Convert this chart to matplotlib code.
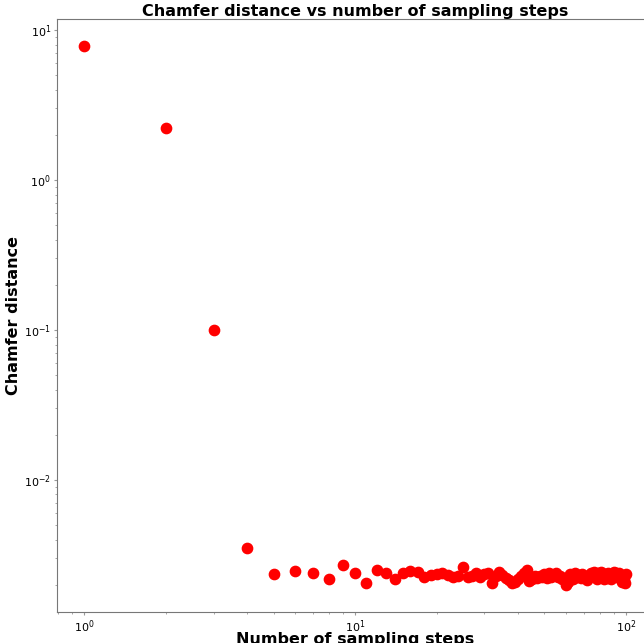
import numpy as np
import matplotlib
matplotlib.use("Agg")
import matplotlib.pyplot as plt

# sampling steps 1..100 and the measured chamfer distance
steps = list(range(1, 101))
head = [7.8, 2.22, 0.1, 0.00352]
# values for steps 5..100, in units of 1e-3
tail_e3 = [2.36, 2.48, 2.39, 2.19, 2.71, 2.41, 2.05, 2.51, 2.38, 2.19,
           2.39, 2.48, 2.45, 2.27, 2.34, 2.37, 2.41, 2.32, 2.25, 2.28,
           2.62, 2.25, 2.30, 2.38, 2.26, 2.35, 2.40, 2.05, 2.28, 2.45,
           2.33, 2.22, 2.15, 2.04, 2.10, 2.18, 2.28, 2.40, 2.52, 2.12,
           2.20, 2.30, 2.22, 2.28, 2.25, 2.35, 2.22, 2.38, 2.26, 2.32,
           2.40, 2.25, 2.30, 2.18, 2.22, 2.00, 2.10, 2.35, 2.28, 2.20,
           2.38, 2.25, 2.32, 2.22, 2.35, 2.28, 2.30, 2.15, 2.25, 2.40,
           2.35, 2.45, 2.30, 2.20, 2.38, 2.25, 2.42, 2.28, 2.18, 2.35,
           2.22, 2.40, 2.30, 2.20, 2.28, 2.45, 2.32, 2.40, 2.25, 2.38,
           2.22, 2.30, 2.10, 2.18, 2.05, 2.35]
chamfer = head + [v * 1e-3 for v in tail_e3]

fig = plt.figure(figsize=(6.44, 6.43), dpi=100)
ax = fig.add_axes([0.089, 0.0487, 0.925, 0.9213])

ax.scatter(steps, chamfer, s=55, c="red", zorder=3)
ax.set_xscale("log")
ax.set_yscale("log")

ax.set_title("Chamfer distance vs number of sampling steps", fontsize=11.5,
             fontweight="bold", pad=2)
ax.set_xlabel("Number of sampling steps", fontsize=11.5, fontweight="bold", labelpad=-1.5)
ax.set_ylabel("Chamfer distance", fontsize=11.5, fontweight="bold", labelpad=2)

for sp in ax.spines.values():
    sp.set_color("#777777")
ax.tick_params(which="both", labelsize=8, length=1.5, pad=2, color="#999999")
ax.tick_params(which="major", length=2.5)

fig.savefig("out.png", dpi=100)
